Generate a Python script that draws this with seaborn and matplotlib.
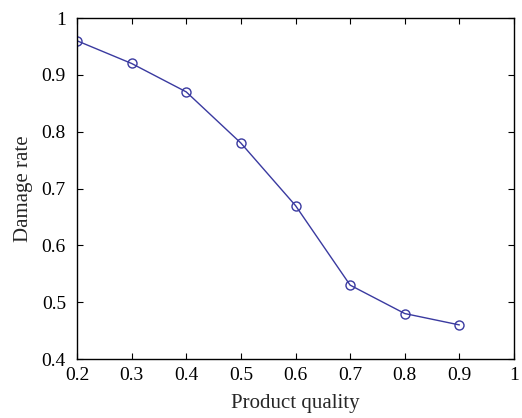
import matplotlib
matplotlib.use("Agg")
import matplotlib.pyplot as plt
import seaborn as sns
import pandas as pd

quality = [0.2, 0.3, 0.4, 0.5, 0.6, 0.7, 0.8, 0.9]
damage = [0.96, 0.92, 0.87, 0.78, 0.67, 0.53, 0.48, 0.46]

x_ticks = [0.2, 0.3, 0.4, 0.5, 0.6, 0.7, 0.8, 0.9, 1.0]
x_labels = ["0.2", "0.3", "0.4", "0.5", "0.6", "0.7", "0.8", "0.9", "1"]
y_ticks = [0.4, 0.5, 0.6, 0.7, 0.8, 0.9, 1.0]
y_labels = ["0.4", "0.5", "0.6", "0.7", "0.8", "0.9", "1"]

df = pd.DataFrame({"quality": quality, "damage": damage})

sns.set_style("ticks")
plt.rcParams["font.family"] = ["Liberation Serif", "DejaVu Serif"]

fig = plt.figure(figsize=(5.22, 4.18), dpi=100)
ax = fig.add_axes([0.1475, 0.1411, 0.8372, 0.8158])

sns.lineplot(
    data=df,
    x="quality",
    y="damage",
    color="#3a3aa0",
    linewidth=1.0,
    marker="o",
    markersize=6.5,
    markerfacecolor="none",
    markeredgecolor="#3a3aa0",
    markeredgewidth=1.0,
    ax=ax
)

ax.set_xlim(0.2, 1.0)
ax.set_ylim(0.4, 1.0)
ax.set_xticks(x_ticks)
ax.set_xticklabels(x_labels)
ax.set_yticks(y_ticks)
ax.set_yticklabels(y_labels)

ax.tick_params(direction="in", length=4, width=0.8, top=True, right=True,
               labelsize=14, colors="black")
ax.tick_params(axis="x", pad=6)
ax.tick_params(axis="y", pad=8)
for side in ax.spines.values():
    side.set_visible(True)
    side.set_linewidth(1.0)
    side.set_color("black")

ax.set_xlabel("Product quality", fontsize=15, labelpad=7)
ax.set_ylabel("Damage rate", fontsize=15, labelpad=6)

fig.savefig("out.png", dpi=100)
